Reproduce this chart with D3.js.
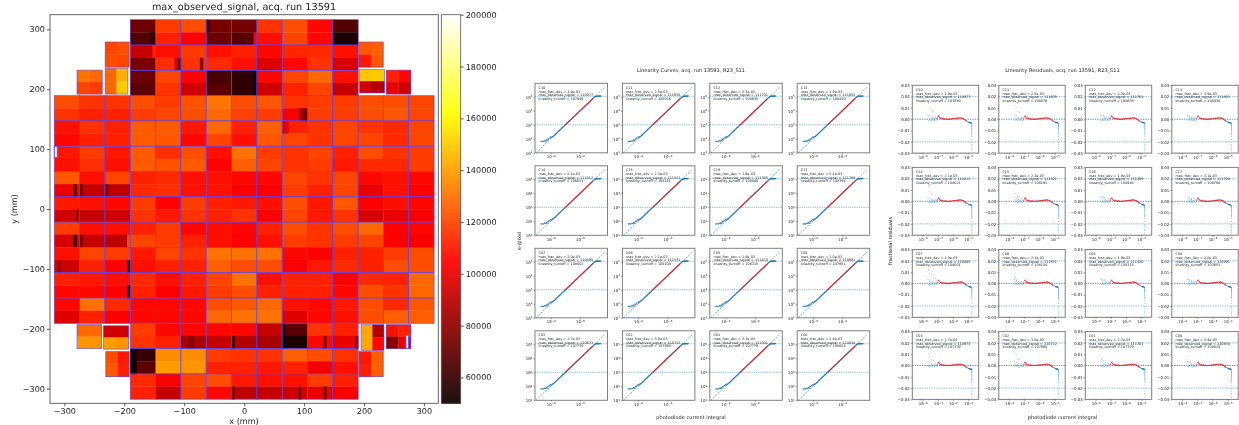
<!DOCTYPE html>
<html>
<head>
<meta charset="utf-8">
<script src="https://cdn.jsdelivr.net/npm/d3@7"></script>
<style>
html,body{margin:0;padding:0;background:#fff;overflow:hidden}
svg{display:block;filter:blur(0.3px)}
text{font-family:"DejaVu Sans",sans-serif;fill:#222;text-rendering:geometricPrecision}
</style>
</head>
<body>
<svg id="chart" width="1239" height="425"></svg>
<script>
// ---------- focal plane values, thousands of electrons: [top half, bottom half] per CCD ----------
const n = null;
const focalRows = [
 [n,n,n,[72,66],[118,112],[122,105],[74,72],[74,68],[116,108],[122,120],[106,106],[66,54],n,n,n],
 [n,n,n,[92,75],[108,115],[118,116],[108,114],[112,108],[106,97],[113,106],[114,116],[108,96],n,n,n],
 [n,n,n,[72,68],[120,116],[105,94],[64,68],[58,58],[106,94],[120,112],[128,120],[108,92],n,n,n],
 [[122,116],[116,112],[116,112],[122,118],[118,120],[123,122],[131,128],[122,119],[124,118],[116,104],[118,118],[118,118],[122,122],[122,124],[120,120]],
 [[108,106],[116,112],[112,112],[125,125],[125,124],[110,106],[128,120],[112,108],[126,124],[112,120],[116,116],[120,120],[116,120],[114,114],[120,120]],
 [[110,108],[118,115],[110,108],[125,125],[115,123],[122,125],[108,105],[130,126],[118,120],[116,116],[120,118],[112,110],[122,114],[116,114],[118,118]],
 [[124,100],[108,92],[120,90],[112,114],[114,115],[108,108],[108,108],[106,104],[106,104],[120,118],[116,112],[120,120],[106,100],[108,108],[106,105]],
 [[110,94],[108,92],[106,94],[118,116],[105,110],[118,116],[112,112],[110,116],[108,104],[122,120],[110,110],[124,116],[104,96],[108,100],[106,104]],
 [[118,96],[108,92],[108,90],[112,120],[118,118],[106,112],[108,108],[106,105],[112,108],[122,118],[116,116],[122,118],[128,120],[105,104],[106,104]],
 [[108,94],[120,112],[118,105],[110,108],[120,112],[116,112],[130,126],[130,122],[130,122],[106,104],[104,110],[112,114],[112,112],[118,122],[122,122]],
 [[112,106],[110,106],[108,104],[114,112],[108,104],[112,110],[120,118],[130,122],[108,112],[112,112],[112,112],[105,106],[114,122],[112,116],[128,128]],
 [[106,98],[130,112],[114,104],[106,106],[106,106],[106,106],[122,128],[124,130],[128,130],[108,98],[106,106],[110,108],[122,122],[114,126],[124,126]],
 [n,n,n,[118,116],[106,112],[106,86],[106,92],[106,88],[92,86],[68,54],[116,106],[112,100],n,n,n],
 [n,n,n,[60,68],[136,140],[136,138],[118,112],[116,112],[116,110],[126,112],[122,102],[116,108],n,n,n],
 [n,n,n,[114,112],[104,92],[120,118],[122,106],[110,90],[108,92],[108,94],[118,100],[112,104],n,n,n]
];
// single dark or bright amplifiers: row, ccd, half (0 top, 1 bottom), amplifier 0-7, thousands
const ampNotes = [
 [0,3,1,7,54],[0,3,1,6,62],[0,7,1,7,105],[0,6,0,0,64],[1,4,1,7,72],[1,4,1,6,95],[1,5,1,6,78],[1,3,0,7,112],
 [2,7,1,7,50],[2,7,0,7,52],[6,0,1,6,68],[6,1,1,0,76],[6,2,1,0,78],[7,0,1,7,80],[8,0,1,6,58],[8,2,1,7,122],[8,1,1,0,76],
 [9,2,1,7,60],[10,2,1,7,58],[9,0,1,1,84],[3,9,1,7,70],[3,9,1,6,80],[3,9,1,5,92],
 [12,7,1,0,62],[12,5,1,2,80],[12,5,1,3,78],[13,3,0,0,50],[13,3,1,0,48],[13,3,0,1,54],[13,3,1,1,52],
 [14,7,1,0,76],[14,9,1,5,80],[14,10,1,5,76],[12,10,1,5,76],[12,11,1,7,82],[12,9,0,0,58],[12,9,1,0,50],
 [4,9,0,0,96],[4,9,0,1,100]
];
// corner sensors, thousands: top-left, top-right, bottom-left, bottom-right
const cornerValues = [
 [120,122,122,120],[130,128,120,118],[128,144,128,150],
 [124,126,110,124],[149,150,94,88],[112,106,100,95],
 [128,128,138,138],[94,94,140,138],[122,110,124,112],
 [142,88,142,106],[108,112,78,100],[110,126,112,126]
];
// corner sensor outlines in mm: x0, x1, y0 (top), y1 (bottom)
const cornerBoxes = [
 [-232,-192,279,237],[-279,-237,232,192],[-232,-194,235,192],
 [191,232,279,237],[192.5,234,233,194],[237,278,232,192],
 [-279,-238,-193,-233],[-235,-193,-195,-234],[-231,-192,-238,-280],
 [195,233,-193,-236],[237,278,-193,-233],[191.5,232,-238,-280]
];
const holes = [[-317,-312,105,86],[270,274,-211,-233]];
const mapTicks = [-300,-200,-100,0,100,200,300];
const barTicks = [60000,80000,100000,120000,140000,160000,180000,200000];

// ---------- panel labels ----------
const panelNames = ["C10","C11","C12","C13","C14","C15","C16","C17","C07","C06","C05","C04","C03","C02","C01","C00"];
const fracDev = ["1.9e-03","2.5e-03","2.3e-03","1.9e-03","2.1e-03","2.3e-03","1.9e-03","2.1e-03","2.0e-03","2.1e-03","1.9e-03","2.0e-03","2.7e-03","3.0e-03","2.7e-03","2.4e-03"];
const maxSignal = [110977,111635,111701,111853,111012,111521,111365,111794,110895,111531,111430,110991,110673,110732,111301,110834];
const turnoff = [107849,108076,108635,108430,108021,108161,108448,108794,108001,108104,108315,107651,107739,107960,107779,108024];

// ---------- linearity sample points shared by the detector's amplifiers ----------
const redLogX = [-7.02,-6.98,-6.94,-6.91,-6.87,-6.83,-6.79,-6.75,-6.71,-6.67,-6.62,-6.58,-6.54,-6.5,-6.46,-6.42,-6.38,-6.33,-6.29,-6.25,-6.21,-6.17,-6.13,-6.08,-6.04,-6.0,-5.96,-5.92,-5.88,-5.83,-5.79,-5.75,-5.71,-5.67,-5.63,-5.58,-5.54,-5.5,-5.46,-5.42,-5.38,-5.33,-5.29,-5.25,-5.21,-5.17,-5.13];
const redRes = [1.2,2.6,3.0,2.1,1.4,0.9,0.4,1.0,0.6,0.2,0.5,0.3,-0.1,0.4,0.2,0.1,0,-0.2,0.1,0,0.2,0.3,0.2,0.3,0.5,0.4,0.6,0.7,0.6,0.8,0.9,0.8,1,1.1,1,1.2,1.1,1.3,1.1,0.9,0.8,0.6,0.1,-0.3,-0.8,-1.2,-1.5];
const lowLogX = [-7.65,-7.62,-7.58,-7.55,-7.52,-7.48,-7.45,-7.42,-7.38,-7.35,-7.32,-7.28,-7.25,-7.22,-7.18,-7.15,-7.12,-7.08,-7.05];
const lowRes = [3.5,-1,1.2,-0.5,2.8,-1.2,0.9,-0.8,1.6,0.3,-1.3,1,0.2,-0.9,2,0.4,-1.1,0.6,-0.5];
const highLogX = [-5.1,-5.07,-5.04,-5.01,-4.98,-4.95,-4.92,-4.89,-4.85,-4.81];
const highRes = [-1.7,-1.9,-2.2,-2.4,-2.6,-2.7,-2.9,-3,-3.1,-3.3];
const dropRes = [-3.6,-4,-4.6,-5.2,-5.8,-6.5,-7.2,-8,-8.8,-9.6,-10.5,-11.5,-12.5,-13.5,-15,-18,-20.5,-22.5,-24.5,-26,-28];
// faint low-signal points that sit above zero, per panel: logX, residual (thousandths)
const strayPoints = [
 [[-7.6,14],[-7.52,10.5],[-7.4,7.5],[-7.3,7.2]],
 [[-7.62,12],[-7.55,10],[-7.42,6.5],[-7.3,6]],
 [[-7.5,3.5],[-7.4,2]],
 [[-7.5,2.5],[-7.35,1.8]],
 [[-7.62,13],[-7.52,9],[-7.4,6.5]],
 [[-7.6,7],[-7.45,4.5],[-7.35,3.5]],
 [[-7.5,4.5],[-7.42,3.2]],
 [[-7.5,3],[-7.38,2.6]],
 [[-7.62,12.5],[-7.55,9],[-7.45,7.5],[-7.3,5]],
 [[-7.6,5.5],[-7.48,4]],
 [[-7.55,4],[-7.4,3]],
 [[-7.55,3.5],[-7.4,2.5]],
 [[-7.6,10.5],[-7.55,8.5],[-7.42,5],[-7.3,4.5]],
 [[-7.62,12],[-7.55,9.5],[-7.45,6],[-7.3,5.5]],
 [[-7.6,5.5],[-7.45,4.5]],
 [[-7.6,5],[-7.48,4]]
];
// curve panels only
const curveLowLogX = [-8.0,-7.95,-7.9,-7.85,-7.8,-7.75,-7.7,-7.65,-7.6,-7.55,-7.5,-7.45,-7.4,-7.35,-7.3,-7.25,-7.2,-7.15,-7.1,-7.05];
const curveLowLogY = [2.12,2.07,2.14,2.17,2.2,2.25,2.29,2.35,2.4,2.45,2.5,2.55,2.6,2.65,2.7,2.75,2.8,2.85,2.9,2.95];
const curveEdgeLogX = [-8.66,-8.58,-8.5,-8.42,-8.35,-8.3,-8.25,-8.2,-8.14,-8.08];
const curveEdgeLogY = [1.8,1.82,1.8,1.86,1.84,1.92,1.86,1.96,1.98,2.05];
const curveTopLogX = [-5.1,-5.05,-5.0,-4.96,-4.92,-4.88,-4.84,-4.8,-4.76,-4.72,-4.68,-4.64,-4.6];
const curveTopLogY = [4.9,4.95,4.99,5.02,5.03,5.04,5.04,5.04,5.05,5.04,5.05,5.04,5.05];
const curveTicksX = [1e-8,1e-6];
const resTicksX = [1e-8,1e-7,1e-6,1e-5];
const curveTicksY = [1e1,1e2,1e3,1e4,1e5];
const resTicksY = [-0.03,-0.02,-0.01,0,0.01,0.02,0.03];

// ---------- helpers ----------
const svg = d3.select("#chart");
const BLUE = "#1f77b4";
const styleAxis = (g, size, stroke) => {
  g.select(".domain").remove();
  g.selectAll("line").attr("stroke", stroke).attr("stroke-width", size);
};

// ---------- focal plane map ----------
(function () {
  const L = 50, R = 438.3, T = 14.7, B = 403.3;
  const x = d3.scaleLinear().domain([-324, 324]).range([L, R]);
  const y = d3.scaleLinear().domain([324.5, -324.5]).range([T, B]);
  function hot(t) {
    t = Math.max(0, Math.min(1, t));
    const r = Math.min(1, 0.0416 + t / 0.381), g = Math.max(0, Math.min(1, (t - 0.365) / 0.381)), b = Math.max(0, (t - 0.746) / 0.254);
    return `rgb(${Math.round(r * 255)},${Math.round(g * 255)},${Math.round(b * 255)})`;
  }
  const color = v => hot((v - 50000) / 150000);
  const map = svg.append("g");
  const pitch = 42.25, x0 = -316.9, y0 = 316.2;
  const cells = [], outlines = [];
  focalRows.forEach((row, r) => row.forEach((v, c) => {
    if (!v) return;
    const xa = x0 + c * pitch, xb = xa + pitch, ya = y0 - r * pitch, yb = ya - pitch, ym = (ya + yb) / 2;
    cells.push({ x0: xa, x1: xb, y0: ya, y1: ym, v: v[0] }, { x0: xa, x1: xb, y0: ym, y1: yb, v: v[1] });
    outlines.push({ x0: xa, x1: xb, y0: ya, y1: yb });
  }));
  ampNotes.forEach(([r, c, h, a, v]) => {
    const w = pitch / 8, xa = x0 + c * pitch + a * w, ya = y0 - r * pitch - h * pitch / 2;
    cells.push({ x0: xa, x1: xa + w, y0: ya, y1: ya - pitch / 2, v });
  });
  cornerValues.forEach((v, i) => {
    const [a, b, t, m] = cornerBoxes[i], xm = (a + b) / 2, ym = (t + m) / 2;
    cells.push({ x0: a, x1: xm, y0: t, y1: ym, v: v[0] }, { x0: xm, x1: b, y0: t, y1: ym, v: v[1] },
               { x0: a, x1: xm, y0: ym, y1: m, v: v[2] }, { x0: xm, x1: b, y0: ym, y1: m, v: v[3] });
    outlines.push({ x0: a, x1: b, y0: t, y1: m });
  });
  map.selectAll("rect.cell").data(cells).join("rect").attr("class", "cell")
    .attr("x", d => x(d.x0)).attr("y", d => y(d.y0))
    .attr("width", d => x(d.x1) - x(d.x0) + 0.3).attr("height", d => y(d.y1) - y(d.y0) + 0.3)
    .attr("fill", d => color(d.v * 1000));
  map.selectAll("rect.hole").data(holes).join("rect").attr("class", "hole")
    .attr("x", d => x(d[0])).attr("y", d => y(d[2])).attr("width", d => x(d[1]) - x(d[0])).attr("height", d => y(d[3]) - y(d[2]))
    .attr("fill", "#fff").attr("stroke", "#5a50ff").attr("stroke-width", 0.8);
  map.selectAll("rect.ccd").data(outlines).join("rect").attr("class", "ccd")
    .attr("x", d => x(d.x0)).attr("y", d => y(d.y0)).attr("width", d => x(d.x1) - x(d.x0)).attr("height", d => y(d.y1) - y(d.y0))
    .attr("fill", "none").attr("stroke", "#5048ff").attr("stroke-width", 0.7).attr("stroke-opacity", 0.75);

  svg.append("rect").attr("x", L).attr("y", T).attr("width", R - L).attr("height", B - T)
    .attr("fill", "none").attr("stroke", "#555").attr("stroke-width", 0.9);
  const gx = svg.append("g").attr("transform", `translate(0,${B})`)
    .call(d3.axisBottom(x).tickValues(mapTicks).tickSize(3).tickPadding(2));
  const gy = svg.append("g").attr("transform", `translate(${L},0)`)
    .call(d3.axisLeft(y).tickValues(mapTicks).tickSize(3).tickPadding(2));
  [gx, gy].forEach(g => { styleAxis(g, 0.8, "#333"); g.selectAll("text").attr("font-size", 8.1).attr("font-family", '"DejaVu Sans"'); });

  svg.append("text").attr("x", 244).attr("y", 10).attr("text-anchor", "middle").attr("font-size", 9.7).text("max_observed_signal, acq. run 13591");
  svg.append("text").attr("x", 244).attr("y", 423.6).attr("text-anchor", "middle").attr("font-size", 8.1).text("x (mm)");
  svg.append("text").attr("transform", "translate(17,209) rotate(-90)").attr("text-anchor", "middle").attr("font-size", 8.1).text("y (mm)");

  // colour bar
  const bx = 441.3, bw = 19.4;
  const cy = d3.scaleLinear().domain([200000, 50000]).range([T, B]);
  const bar = d3.range(T, B, 1);
  svg.append("g").selectAll("rect").data(bar).join("rect")
    .attr("x", bx).attr("y", d => d).attr("width", bw).attr("height", 1.2)
    .attr("fill", d => color(cy.invert(d)));
  svg.append("rect").attr("x", bx).attr("y", T).attr("width", bw).attr("height", B - T)
    .attr("fill", "none").attr("stroke", "#555").attr("stroke-width", 0.8);
  const gb = svg.append("g").attr("transform", `translate(${bx + bw},0)`)
    .call(d3.axisRight(cy).tickValues(barTicks).tickFormat(d3.format("d")).tickSize(3).tickPadding(2));
  styleAxis(gb, 0.8, "#333");
  gb.selectAll("text").attr("font-size", 8.1).attr("font-family", '"DejaVu Sans"');
})();

// ---------- small panels ----------
function superscriptLabels(g) {
  g.selectAll(".tick text").each(function (d) {
    const e = Math.round(Math.log10(d)), t = d3.select(this);
    t.text("10");
    t.append("tspan").attr("dy", "-0.45em").attr("font-size", "0.7em").text(String(e).replace("-", "\u2212"));
  });
}
function panelFrame(g, w, h) {
  g.append("rect").attr("width", w).attr("height", h).attr("fill", "none").attr("stroke", "#808080").attr("stroke-width", 1);
}
function panelText(g, i, yStart) {
  const lines = [panelNames[i], `max_frac_dev = ${fracDev[i]}`, `max_observed_signal = ${maxSignal[i]}`, `linearity_turnoff = ${turnoff[i]}`];
  g.append("g").selectAll("text").data(lines).join("text")
    .attr("x", 3.6).attr("y", (d, k) => yStart + k * 3.65).attr("font-size", 3.4).attr("fill", "#333").text(d => d);
}
const GAIN = 1e10;
const dots = (g, data, r, fill, op) => g.append("g").selectAll("circle").data(data).join("circle")
  .attr("cx", d => d[0]).attr("cy", d => d[1]).attr("r", r).attr("fill", fill).attr("fill-opacity", op);
const pairs = (xs, ys) => xs.map((v, i) => [v, ys[i]]);
const minorLog = (from, to) => d3.range(from, to).flatMap(e => d3.range(2, 10).map(m => m * Math.pow(10, e)));

// curve grid
const curveW = 72.5, curveH = 69.5;
const curveX = d3.scaleLog().domain([Math.pow(10, -9.07), Math.pow(10, -4.13)]).range([0, curveW]);
const curveY = d3.scaleLog().domain([10, Math.pow(10, 5.96)]).range([curveH, 0]);
panelNames.forEach((name, i) => {
  const col = i % 4, row = Math.floor(i / 4);
  const g = svg.append("g").attr("transform", `translate(${535 + col * 87.4},${83.3 + row * 82.5})`);
  const end = Math.pow(10, -4.3);
  g.append("line").attr("x1", curveX(1e-9)).attr("y1", curveY(GAIN * 1e-9)).attr("x2", curveX(end)).attr("y2", curveY(GAIN * end))
    .attr("stroke", BLUE).attr("stroke-width", 0.7).attr("stroke-dasharray", "2 1.2").attr("stroke-opacity", 0.85);
  [1000, turnoff[i]].forEach((v, k) => g.append("line").attr("x1", 0).attr("x2", curveW).attr("y1", curveY(v)).attr("y2", curveY(v))
    .attr("stroke", BLUE).attr("stroke-width", k ? 0.9 : 0.6).attr("stroke-dasharray", "1.3 0.9").attr("stroke-opacity", k ? 0.55 : 0.85));
  const toPix = (lxv, lyv) => [curveX(Math.pow(10, lxv)), curveY(Math.pow(10, lyv))];
  const blue = [
    ...pairs(curveEdgeLogX, curveEdgeLogY).map(p => toPix(p[0], p[1])),
    ...pairs(curveLowLogX, curveLowLogY).map(p => toPix(p[0], p[1])),
    ...pairs(curveTopLogX, curveTopLogY).map(p => toPix(p[0], p[1]))
  ];
  dots(g, blue, 0.75, BLUE, 0.9);
  const red = pairs(redLogX, redRes).map(p => toPix(p[0], 10 + p[0] + Math.log10(1 + p[1] / 1000)));
  g.append("path").attr("d", d3.line()(red)).attr("stroke", "#d62728").attr("stroke-width", 1.3).attr("fill", "none");
  g.append("path").attr("d", d3.line()(red.map(p => [p[0] + 0.35, p[1] + 0.35]))).attr("stroke", BLUE).attr("stroke-width", 0.5).attr("stroke-opacity", 0.7).attr("fill", "none");
  panelFrame(g, curveW, curveH);
  const ax = g.append("g").attr("transform", `translate(0,${curveH})`).call(d3.axisBottom(curveX).tickValues(curveTicksX).tickSize(1.5).tickPadding(1));
  const ay = g.append("g").call(d3.axisLeft(curveY).tickValues(curveTicksY).tickSize(1.5).tickPadding(1));
  [ax, ay].forEach(a => { styleAxis(a, 0.5, "#444"); a.selectAll("text").attr("font-size", 3.9).attr("font-family", '"DejaVu Sans"').attr("fill", "#333"); });
  superscriptLabels(ax); superscriptLabels(ay);
  panelText(g, i, 5.7);
});
svg.append("text").attr("x", 691).attr("y", 72).attr("text-anchor", "middle").attr("font-size", 5.05).text("Linearity Curves, acq. run 13591, R23_S11");
svg.append("text").attr("x", 691).attr("y", 418.5).attr("text-anchor", "middle").attr("font-size", 5.05).text("photodiode current integral");
svg.append("text").attr("transform", "translate(521,241) rotate(-90)").attr("text-anchor", "middle").attr("font-size", 5.05).text("e-/pixel");

// residual grid
const resW = 66.4, resH = 67.8;
const resX = d3.scaleLog().domain([Math.pow(10, -8.68), Math.pow(10, -4.32)]).range([0, resW]);
const resY = d3.scaleLinear().domain([-0.03, 0.03]).range([resH, 0]);
panelNames.forEach((name, i) => {
  const col = i % 4, row = Math.floor(i / 4);
  const g = svg.append("g").attr("transform", `translate(${912.3 + col * 86.5},${85.3 + row * 82.1})`);
  resTicksY.filter(v => v === 0.02 || v === 0 || v === -0.02).forEach(v =>
    g.append("line").attr("x1", 0).attr("x2", resW).attr("y1", resY(v)).attr("y2", resY(v))
      .attr("stroke", BLUE).attr("stroke-width", v === 0 ? 0.9 : 0.6).attr("stroke-dasharray", "1.4 1").attr("stroke-opacity", 0.85));
  const toPix = p => [resX(Math.pow(10, p[0])), resY(p[1] / 1000)];
  const blueSet = [
    ...pairs(lowLogX, lowRes).map(toPix),
    ...strayPoints[i].map(toPix),
    ...pairs(highLogX, highRes).map(toPix),
    ...dropRes.map(v => toPix([-4.77, v]))
  ];
  dots(g, blueSet, 0.45, BLUE, 0.9);
  dots(g, pairs(highLogX.slice(5), highRes.slice(5)).map(toPix), 0.65, BLUE, 0.95);
  dots(g, pairs(redLogX, redRes).map(toPix), 0.58, "#e0202a", 0.95);
  panelFrame(g, resW, resH);
  const ax = g.append("g").attr("transform", `translate(0,${resH})`).call(d3.axisBottom(resX).tickValues(resTicksX).tickSize(1.5).tickPadding(1.2));
  const am = g.append("g").attr("transform", `translate(0,${resH})`).call(d3.axisBottom(resX).tickValues(minorLog(-9, -5).filter(v => v > resX.domain()[0] && v < resX.domain()[1])).tickSize(0.9).tickFormat(""));
  const ay = g.append("g").call(d3.axisLeft(resY).tickValues(resTicksY).tickFormat(d3.format(".2f")).tickSize(1.5).tickPadding(1));
  [ax, ay].forEach(a => { styleAxis(a, 0.5, "#444"); a.selectAll("text").attr("font-size", 3.9).attr("font-family", '"DejaVu Sans"').attr("fill", "#333"); });
  styleAxis(am, 0.3, "#666");
  superscriptLabels(ax);
  panelText(g, i, 5.7);
});
svg.append("text").attr("x", 1062.5).attr("y", 72).attr("text-anchor", "middle").attr("font-size", 5.05).text("Linearity Residuals, acq. run 13591, R23_S11");
svg.append("text").attr("x", 1062.5).attr("y", 418.5).attr("text-anchor", "middle").attr("font-size", 5.05).text("photodiode current integral");
svg.append("text").attr("transform", "translate(892,241) rotate(-90)").attr("text-anchor", "middle").attr("font-size", 5.05).text("fractional residuals");
</script>
</body>
</html>
